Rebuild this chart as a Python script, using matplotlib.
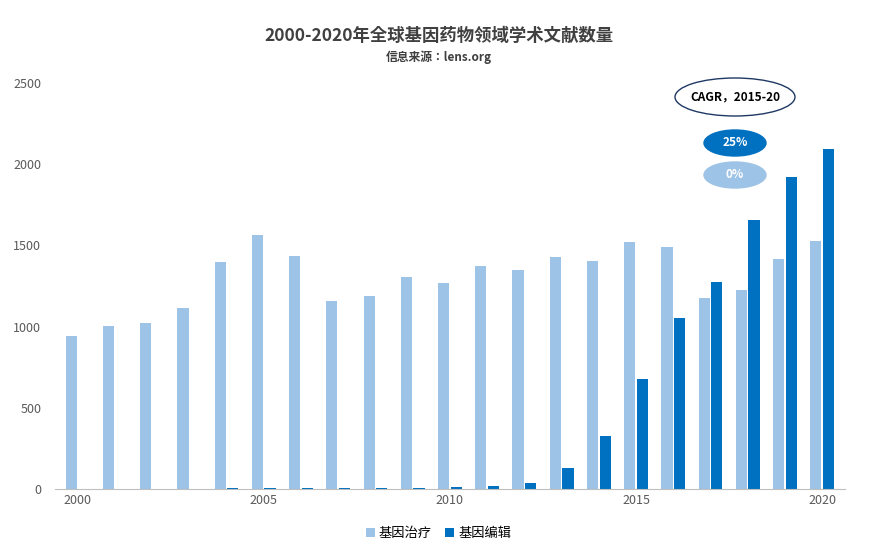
import matplotlib
matplotlib.use("Agg")
import matplotlib.pyplot as plt
from matplotlib.patches import Ellipse
import numpy as np

plt.rcParams["font.family"] = "sans-serif"
plt.rcParams["font.sans-serif"] = ["Noto Sans CJK JP", "Noto Sans CJK SC", "Noto Sans CJK TC", "Noto Sans CJK KR", "DejaVu Sans"]

years = list(range(2000, 2021))
therapy = [940, 1005, 1020, 1115, 1395, 1565, 1435, 1160, 1185, 1305, 1265, 1375, 1350, 1425, 1405, 1520, 1490, 1175, 1225, 1415, 1525]
editing = [0, 0, 0, 0, 5, 5, 5, 5, 5, 5, 10, 20, 40, 130, 325, 675, 1055, 1275, 1655, 1920, 2090]
series_names = ["基因治疗", "基因编辑"]
cagr_labels = ["CAGR，2015-20", "25%", "0%"]
light, dark = "#9DC3E6", "#0070C0"

fig = plt.figure(figsize=(8.77, 5.52), dpi=100)
ax = fig.add_axes([0.063, 0.114, 0.90, 0.736])
x = np.array(years)
w = 0.3
ax.bar(x - w/2 - 0.02, therapy, w, color=light, label=series_names[0])
ax.bar(x + w/2 + 0.02, editing, w, color=dark, label=series_names[1])
ax.set_xlim(1999.4, 2020.6)
ax.set_ylim(0, 2500)
ax.set_yticks(range(0, 2501, 500))
ax.set_xticks([2000, 2005, 2010, 2015, 2020])
for s in ["top", "right", "left"]:
    ax.spines[s].set_visible(False)
ax.spines["bottom"].set_color("#BFBFBF")
ax.tick_params(length=0, labelsize=9, colors="#595959")
ax.yaxis.set_tick_params(pad=10)

fig.text(0.5, 0.925, "2000-2020年全球基因药物领域学术文献数量", ha="center", fontsize=12.5, fontweight="bold", color="#404040")
fig.text(0.5, 0.89, "信息来源：lens.org", ha="center", fontsize=8.5, fontweight="bold", color="#404040")

def ell(cx, cy, w_, h_, fc, ec, txt, tc):
    e = Ellipse((cx, cy), w_, h_, transform=fig.transFigure, facecolor=fc, edgecolor=ec, lw=1)
    fig.add_artist(e)
    fig.text(cx, cy, txt, ha="center", va="center", fontsize=8.5, color=tc, fontweight="bold")

ell(735/877, 1-97/552, 120/877, 38/552, "white", "#1F3864", cagr_labels[0], "black")
ell(735/877, 1-143/552, 62/877, 26/552, dark, dark, cagr_labels[1], "white")
ell(735/877, 1-175/552, 62/877, 26/552, light, light, cagr_labels[2], "white")

fig.legend(loc="lower center", bbox_to_anchor=(0.5, 0.0), ncol=2, frameon=False, fontsize=9.5,
           handlelength=0.7, handleheight=0.7, columnspacing=1.0, handletextpad=0.3)
fig.savefig("out.png", dpi=100)
